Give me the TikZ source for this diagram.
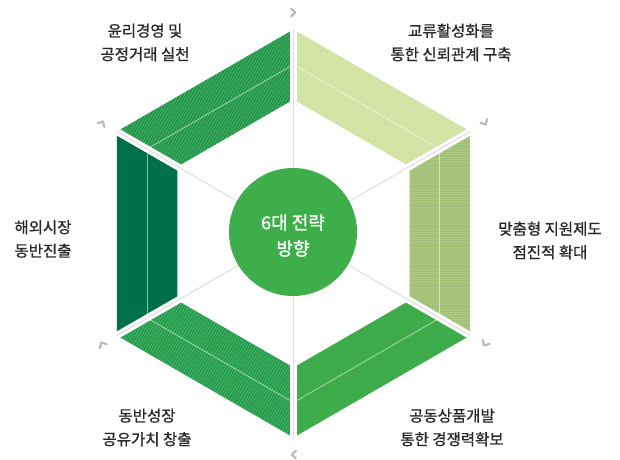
\documentclass[tikz,border=0pt]{standalone}
\usepackage{fontspec}
\setmainfont{Noto Sans CJK KR}
\newfontfamily\lblfont{Noto Sans CJK KR}[FakeBold=0.9]
\newfontfamily\hubfont{Noto Sans CJK KR}[FakeBold=1.2]
\usetikzlibrary{calc}
\definecolor{cUL}{RGB}{30,150,70}
\definecolor{cUR}{RGB}{212,228,166}
\definecolor{cUR2}{RGB}{188,208,140}
\definecolor{cR}{RGB}{163,193,118}
\definecolor{cLR}{RGB}{62,172,74}
\definecolor{cLR2}{RGB}{45,150,60}
\definecolor{cLL}{RGB}{32,156,72}
\definecolor{cL}{RGB}{0,112,74}
\definecolor{cC}{RGB}{61,174,74}
\definecolor{spk}{RGB}{222,222,222}
\definecolor{chevc}{RGB}{185,185,185}
\definecolor{txt}{RGB}{40,40,40}
\begin{document}
\begin{tikzpicture}[x=1pt,y=1pt,
  lbl/.style={text=txt, align=center, inner sep=0pt, font=\lblfont\fontsize{15.5}{23.5}\selectfont},
  midline/.style={white, opacity=.55, line width=.8pt},
  hatch/.style={white, opacity=.28, line width=.55pt},
  chev/.style={chevc, line width=2.2pt, line cap=round, line join=round},
  spoke/.style={spk, line width=1pt}]
\path[fill=white, use as bounding box] (0,0) rectangle (620,459);
\coordinate (c) at (293.5,225.5);
\foreach \a in {90,30,-30,-90,-150,150}{
  \coordinate (o\a) at ($(c)+(\a:204)$);
  \coordinate (i\a) at ($(c)+(\a:134)$);
  \coordinate (m\a) at ($(c)+(\a:169)$);
}
% spokes
\foreach \a in {90,30,-30,-90,-150,150}{
  \draw[spoke] (c) -- (o\a);
}
% upper-left band
\fill[cUL] (o150) -- (o90) -- (i90) -- (i150) -- cycle;
\begin{scope}
  \clip (o150) -- (o90) -- (i90) -- (i150) -- cycle;
  \foreach \k in {-330,-327,...,150}{
    \draw[hatch] ($(c)+(\k,0)+(60:-280)$) -- ($(c)+(\k,0)+(60:280)$);
  }
\end{scope}
\draw[midline] (m150) -- (m90);
% upper-right band
\fill[cUR] (o90) -- (o30) -- (i30) -- (i90) -- cycle;
\begin{scope}
  \clip (o90) -- (o30) -- (i30) -- (i90) -- cycle;
  \foreach \x in {290,296,...,480}{
    \foreach \y in {252,258,...,438}{
      \fill[cUR2] (\x,\y) circle (0.5);
    }
  }
\end{scope}
\draw[midline] (m90) -- (m30);
% right band
\fill[cR] (o30) -- (o-30) -- (i-30) -- (i30) -- cycle;
\begin{scope}
  \clip (o30) -- (o-30) -- (i-30) -- (i30) -- cycle;
  \foreach \y in {112,114.5,...,335}{
    \draw[white, opacity=.12, line width=.5pt] (400,\y) -- (480,\y);
  }
\end{scope}
\draw[midline] (m30) -- (m-30);
% lower-right band
\fill[cLR] (o-30) -- (o-90) -- (i-90) -- (i-30) -- cycle;
\begin{scope}
  \clip (o-30) -- (o-90) -- (i-90) -- (i-30) -- cycle;
  \foreach \x in {290,296,...,480}{
    \foreach \y in {16,22,...,200}{
      \fill[cLR2] (\x,\y) circle (0.5);
    }
  }
\end{scope}
\draw[midline] (m-30) -- (m-90);
% lower-left band
\fill[cLL] (o-90) -- (o-150) -- (i-150) -- (i-90) -- cycle;
\begin{scope}
  \clip (o-90) -- (o-150) -- (i-150) -- (i-90) -- cycle;
  \foreach \k in {-150,-147,...,330}{
    \draw[hatch] ($(c)+(\k,0)+(60:-280)$) -- ($(c)+(\k,0)+(60:280)$);
  }
\end{scope}
\draw[midline] (m-90) -- (m-150);
% left band
\fill[cL] (o-150) -- (o150) -- (i150) -- (i-150) -- cycle;
\draw[midline] (m-150) -- (m150);
% gaps
\foreach \a in {90,30,-30,-90,-150,150}{
  \draw[white, line width=7pt] ($(c)+(\a:125)$) -- ($(c)+(\a:212)$);
  \draw[spoke] ($(c)+(\a:125)$) -- (o\a);
}
% chevrons
\foreach \a in {90,30,-30,-90,-150,150}{
  \begin{scope}[shift={($(c)+(\a:221)$)}, rotate=\a-90]
    \draw[chev] (-2.3,3.8) -- (1.7,0) -- (-2.3,-3.8);
  \end{scope}
}
% centre
\node[circle, fill=cC, minimum size=128pt, inner sep=0pt] (hub) at (293,227) {};
\node[text=white, align=center, inner sep=0pt, font=\hubfont\fontsize{18}{26}\selectfont] (hubt) at (293,223.5) {6대 전략\\방향};
% labels
\node[lbl] (tUL) at (145,416.5) {윤리경영 및\\공정거래 실천};
\node[lbl] (tUR) at (451,416.5) {교류활성화를\\통한 신뢰관계 구축};
\node[lbl] (tR) at (550,218.5) {맞춤형 지원제도\\점진적 확대};
\node[lbl] (tL) at (43,220) {해외시장\\동반진출};
\node[lbl] (tLR) at (452,31.5) {공동상품개발\\통한 경쟁력확보};
\node[lbl] (tLL) at (147,31.5) {동반성장\\공유가치 창출};
\end{tikzpicture}
\end{document}
